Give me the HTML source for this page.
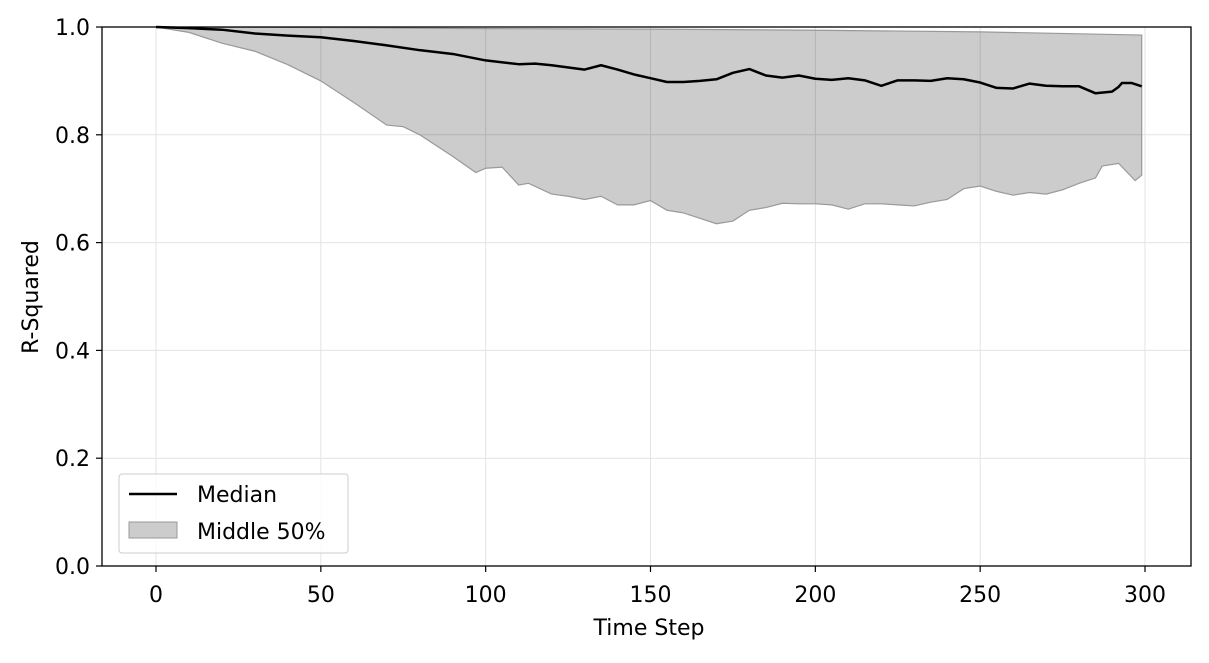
<!DOCTYPE html>
<html><head><meta charset="utf-8"><style>
body{margin:0;background:#fff;}
svg text{font-family:"DejaVu Sans","Liberation Sans",sans-serif;}
</style></head><body>
<svg id="chart" width="1209" height="658" xmlns="http://www.w3.org/2000/svg">
<g id="grid"></g>
<g id="marks"></g>
<rect x="102" y="27" width="1089" height="539" fill="none" stroke="#000" stroke-width="1.3"/>
<g id="ticks"></g>
<text x="649" y="635" font-size="22" text-anchor="middle">Time Step</text>
<text x="38" y="297" font-size="22" text-anchor="middle" transform="rotate(-90 38 297)">R-Squared</text>
<g>
<rect x="119" y="474" width="229" height="79" rx="3" fill="#fff" fill-opacity="0.8" stroke="#ccc"/>
<line x1="129" y1="494" x2="177" y2="494" stroke="#000" stroke-width="2.5"/>
<text x="197" y="502" font-size="22">Median</text>
<rect x="129" y="522" width="48" height="16" fill="#ccc" stroke="#999"/>
<text x="197" y="539" font-size="22">Middle 50%</text>
</g>
</svg>
<script>
const medianT=[0,10,20,30,40,50,60,70,80,90,100,110,115,120,130,135,140,145,150,155,160,165,170,175,180,185,190,195,200,205,210,215,220,225,230,235,240,245,250,255,260,265,270,275,280,285,290,292,293,296,299];
const medianV=[1.0,.998,.995,.988,.984,.981,.974,.966,.957,.950,.938,.931,.932,.929,.921,.929,.921,.912,.905,.898,.898,.900,.903,.915,.922,.910,.906,.910,.904,.902,.905,.901,.891,.901,.901,.900,.905,.903,.897,.887,.886,.895,.891,.890,.890,.877,.880,.889,.896,.896,.890];
const upperT=[0,50,100,150,200,250,299];
const upperV=[1.0,.999,.997,.996,.994,.991,.985];
const lowerT=[0,10,20,30,40,50,60,70,75,80,90,97,100,105,110,113,120,125,130,135,140,145,150,155,160,165,170,175,180,185,190,195,200,205,210,215,220,225,230,235,240,245,250,255,260,265,270,275,280,285,287,292,297,299];
const lowerV=[1.0,.99,.97,.955,.93,.90,.86,.818,.815,.80,.76,.73,.738,.74,.707,.71,.69,.686,.68,.686,.67,.67,.678,.66,.655,.645,.635,.64,.66,.665,.673,.672,.672,.67,.662,.672,.672,.67,.668,.675,.68,.70,.705,.695,.688,.693,.69,.698,.71,.72,.742,.747,.715,.725];
const xTicks=[0,50,100,150,200,250,300];
const yTicks=[0.0,0.2,0.4,0.6,0.8,1.0];
const X=t=>156+t*(1145-156)/300;
const Y=v=>566-v*539;
const NS="http://www.w3.org/2000/svg";
function mk(tag,attrs,parent){const e=document.createElementNS(NS,tag);for(const k in attrs)e.setAttribute(k,attrs[k]);parent.appendChild(e);return e;}
const grid=document.getElementById('grid'),marks=document.getElementById('marks'),ticks=document.getElementById('ticks');
xTicks.forEach(t=>{
 const l=mk('line',{x1:X(t),x2:X(t),y1:27,y2:566,stroke:'#e3e3e3','stroke-width':1},grid);
 
 
 const tk=mk('line',{x1:X(t),x2:X(t),y1:566,y2:572,stroke:'#000','stroke-width':1.2},ticks);
 
 
 const tx=mk('text',{x:X(t),y:602,'font-size':22,'text-anchor':'middle'},ticks);
 tx.textContent=t;
 
 
});
yTicks.forEach(v=>{
 const l=mk('line',{x1:102,x2:1191,y1:Y(v),y2:Y(v),stroke:'#e3e3e3','stroke-width':1},grid);
 
 
 const tk=mk('line',{x1:96,x2:102,y1:Y(v),y2:Y(v),stroke:'#000','stroke-width':1.2},ticks);
 
 
 const tx=mk('text',{x:90,y:Y(v)+8,'font-size':22,'text-anchor':'end'},ticks);
 tx.textContent=v.toFixed(1);
 
 
});
let d='M'+upperT.map((t,i)=>X(t)+','+Y(upperV[i])).join('L');
for(let i=lowerT.length-1;i>=0;i--)d+='L'+X(lowerT[i])+','+Y(lowerV[i]);
d+='Z';
const band=mk('path',{d:d,fill:'#000','fill-opacity':0.2,stroke:'#999','stroke-width':1.2},marks);


const med=mk('path',{d:'M'+medianT.map((t,i)=>X(t)+','+Y(medianV[i])).join('L'),fill:'none',stroke:'#000','stroke-width':2.5,'stroke-linejoin':'round'},marks);


</script>
</body></html>
